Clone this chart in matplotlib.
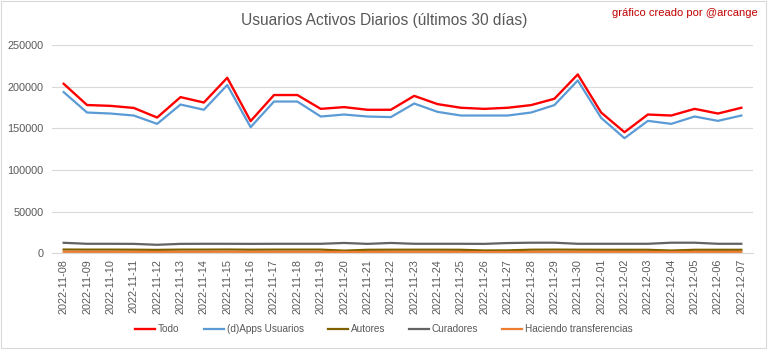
import pandas as pd
import matplotlib.pyplot as plt

# Dates (last 30 days)
fechas = pd.date_range("2022-11-08", "2022-12-07").strftime("%Y-%m-%d").tolist()

todo = [203500, 178000, 177000, 174500, 163000, 187500, 181000, 210700, 158700, 190000,
        190000, 173400, 175500, 172300, 172300, 189000, 179100, 174700, 173400, 174700,
        177900, 185500, 214700, 169000, 145400, 166600, 165400, 173400, 167800, 174700]
dapps = [193500, 169000, 167800, 165400, 155400, 178600, 172300, 202000, 151400, 182200,
         182200, 164200, 166600, 164200, 163500, 179800, 169800, 165400, 165400, 165400,
         169000, 177900, 207500, 162600, 138200, 159000, 155400, 164200, 159000, 165400]
autores = [4600, 4500, 4500, 4400, 4200, 4500, 4500, 4600, 4400, 4500,
           4500, 4500, 3300, 4300, 4400, 4400, 4400, 4300, 3500, 3600,
           4400, 4500, 4400, 4300, 4300, 4300, 3400, 4300, 4300, 4300]
curadores = [12700, 11500, 11500, 11400, 10300, 11400, 11500, 11500, 11400, 11500,
             11500, 11500, 12500, 11400, 12500, 11500, 11500, 11500, 11400, 12400,
             12800, 12800, 11500, 11500, 11500, 11500, 12800, 12800, 11500, 11500]
transferencias = [1900, 1800, 1800, 1800, 1700, 1800, 1800, 1900, 1700, 1800,
                  1800, 1800, 1700, 1700, 1800, 1800, 1800, 1700, 1600, 1600,
                  1800, 1800, 1800, 1800, 1700, 1800, 1700, 1800, 1700, 1800]

plt.rcParams['font.family'] = ['Liberation Sans', 'DejaVu Sans']

fig = plt.figure(figsize=(7.68, 3.49), dpi=100)
ax = fig.add_axes([0.0677, 0.274, 0.9128, 0.597])

x = range(len(fechas))
ax.plot(x, todo, color="#FF0000", lw=1.7, label="Todo")
ax.plot(x, dapps, color="#5B9BD5", lw=1.6, label="(d)Apps Usuarios")
ax.plot(x, autores, color="#7F6000", lw=1.6, label="Autores")
ax.plot(x, curadores, color="#636363", lw=1.6, label="Curadores")
ax.plot(x, transferencias, color="#ED7D31", lw=1.6, label="Haciendo transferencias")

ax.set_xlim(-0.5, len(fechas) - 0.5)
ax.set_ylim(0, 250000)
ax.set_yticks(range(0, 250001, 50000))
ax.set_xticks(list(x))
ax.set_xticklabels(fechas, rotation=90)
ax.tick_params(axis="both", length=0, labelsize=7.8, labelcolor="#595959")
ax.tick_params(axis="y", pad=6)
ax.tick_params(axis="x", pad=4)
ax.grid(axis="y", color="#D9D9D9", lw=0.8)
ax.set_axisbelow(True)
for s in ["top", "right", "left"]:
    ax.spines[s].set_visible(False)
ax.spines["bottom"].set_color("#D9D9D9")

fig.text(0.5, 0.94, "Usuarios Activos Diarios (últimos 30 días)", ha="center", va="center",
         fontsize=11.2, color="#595959")
fig.text(0.987, 0.962, "gráfico creado por @arcange", ha="right", va="center",
         fontsize=8, color="#C00000")

fig.legend(loc="center", bbox_to_anchor=(0.5, 0.057), ncol=5, frameon=False,
           fontsize=7.2, labelcolor="#595959", handlelength=2.0, handletextpad=0.3,
           columnspacing=2.4)

fig.patches.append(plt.Rectangle((0.001, 0.002), 0.997, 0.995, transform=fig.transFigure,
                                 fill=False, edgecolor="#D9D9D9", lw=0.8))

fig.savefig("out.png", dpi=100)
